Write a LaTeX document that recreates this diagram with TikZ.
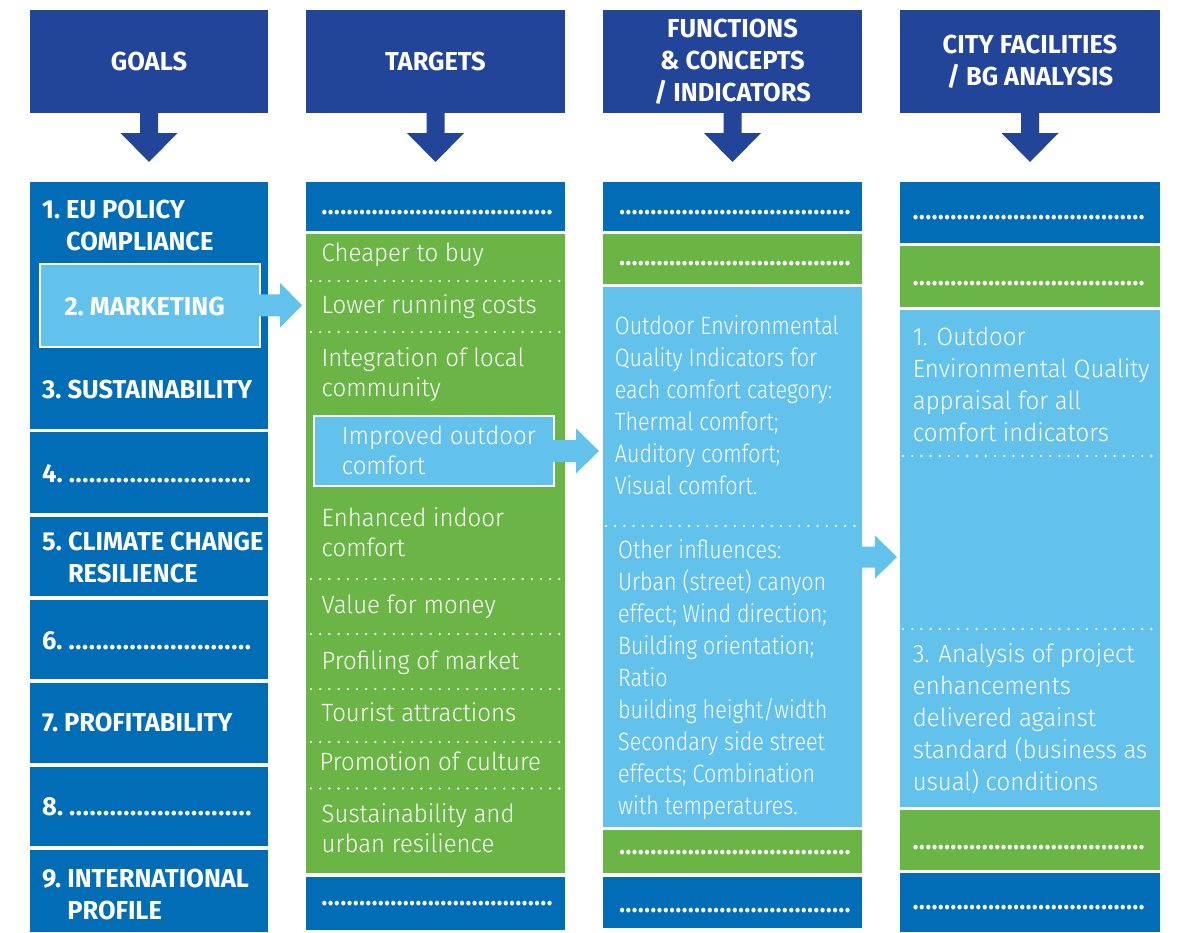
\documentclass[tikz,border=0pt]{standalone}
\usepackage{fontspec}
\setmainfont{Fira Sans}[FakeStretch=0.9]
\newfontfamily\fnwide{Fira Sans Light}[FakeStretch=0.96]
\newfontfamily\fnnarrow{Fira Sans Light}[FakeStretch=0.86]
\newfontfamily\fnbold{Fira Sans}[FakeStretch=0.98]
\usetikzlibrary{calc}
\definecolor{hdrblue}{RGB}{34,69,154}
\definecolor{colblue}{RGB}{0,109,182}
\definecolor{colgreen}{RGB}{106,181,69}
\definecolor{lightblue}{RGB}{99,194,236}
\newcommand{\dotrow}[1]{\hbox to #1{\xleaders\hbox{.\kern0.6pt}\hfill}}
\newcommand{\bstrut}{\rule{0pt}{20pt}}
\newcommand{\gstrut}{\rule{0pt}{21pt}}
\tikzset{
  blk/.style={anchor=north west, inner sep=0pt, outer sep=0pt, draw=none},
  hdrtxt/.style={text=white, font=\fnbold\fontsize{26}{32}\selectfont\bfseries, align=center},
  goaltxt/.style={text=white, font=\fnbold\fontsize{26}{32}\selectfont\bfseries, anchor=base west, inner sep=0pt, align=left},
  goalmulti/.style={goaltxt, anchor=north west},
  bodytxt/.style={text=white, font=\fnwide\fontsize{25}{32}\selectfont, anchor=north west, inner sep=0pt, align=left},
  functxt/.style={bodytxt, font=\fnnarrow\fontsize{25}{32}\selectfont},
  tgttxt/.style={text=white, font=\fnwide\fontsize{25}{29.5}\selectfont, anchor=north west, inner sep=0pt, align=left},
  tgtline/.style={tgttxt, anchor=base west},
  dottxt/.style={text=white, font=\fontsize{26}{32}\selectfont\bfseries, anchor=base west, inner sep=0pt},
  sepline/.style={white, line width=2.4pt, line cap=round, dash pattern=on 0pt off 9.2pt},
  hilite/.style={blk, fill=lightblue, draw=white, line width=2pt},
}
\newcommand{\mkbox}[6]{\node[blk, fill=#2, minimum width={(#5)-(#3)}, minimum height={(#6)-(#4)}] (#1) at (#3,#4) {};}
\begin{document}
\begin{tikzpicture}[x=1pt,y=-1pt]
\useasboundingbox (0,0) rectangle (1177,932);
% headers
\node[blk, fill=hdrblue, hdrtxt, minimum width=238, minimum height=103] (hg) at (30,10) {GOALS};
\node[blk, fill=hdrblue, hdrtxt, minimum width=259, minimum height=103] (ht) at (306,10) {TARGETS};
\node[blk, fill=hdrblue, hdrtxt, minimum width=259, minimum height=103] (hf) at (603,10) {FUNCTIONS\\\& CONCEPTS\\/ INDICATORS};
\node[blk, fill=hdrblue, hdrtxt, minimum width=260, minimum height=103] (hc) at (900,10) {CITY FACILITIES\\/ BG ANALYSIS};
\foreach \h in {hg,ht,hf,hc}{
  \fill[hdrblue] ($(\h.south)+(-9,-1)$) -- ($(\h.south)+(-9,20)$) -- ($(\h.south)+(-28.5,20)$) -- ($(\h.south)+(0,49)$) -- ($(\h.south)+(28.5,20)$) -- ($(\h.south)+(9,20)$) -- ($(\h.south)+(9,-1)$) -- cycle;
}
% goals column
\mkbox{g1}{colblue}{30}{182}{268}{428.5}
\mkbox{g4}{colblue}{30}{432}{268}{512.5}
\mkbox{g5}{colblue}{30}{516.5}{268}{596}
\mkbox{g6}{colblue}{30}{599.5}{268}{679}
\mkbox{g7}{colblue}{30}{682.5}{268}{763}
\mkbox{g8}{colblue}{30}{766.5}{268}{846}
\mkbox{g9}{colblue}{30}{849.5}{268}{932}
% targets column
\mkbox{t0}{colblue}{306}{182}{565}{231}
\mkbox{tg}{colgreen}{306}{234}{565}{873}
\mkbox{tb}{colblue}{306}{877}{565}{930}
% functions column
\mkbox{f0}{colblue}{603}{182}{862}{231}
\mkbox{f1}{colgreen}{603}{234}{862}{284}
\mkbox{fl}{lightblue}{603}{287}{862}{827}
\mkbox{f2}{colgreen}{603}{830}{862}{873}
\mkbox{f3}{colblue}{603}{877}{862}{928}
% city column
\mkbox{c0}{colblue}{900}{182}{1160}{243}
\mkbox{c1}{colgreen}{900}{246}{1160}{307}
\mkbox{cl}{lightblue}{900}{310}{1160}{807}
\mkbox{c2}{colgreen}{900}{809.5}{1160}{870}
\mkbox{c3}{colblue}{900}{873}{1160}{932}
% dotted separators
\foreach \yy in {281,332,579,634,689,742,788.5}{\draw[sepline] (311,\yy) -- (561,\yy);}
\draw[sepline] (606,526) -- (860,526);
\foreach \yy in {456,629}{\draw[sepline] (903,\yy) -- (1158,\yy);}
% highlighted boxes
\node[hilite, minimum width=220.5, minimum height=83.5] (gm) at (39.5,263.5) {};
\node[hilite, minimum width=240, minimum height=70] (ti) at (314,416) {};
% block arrows
\fill[lightblue] ($(gm.east)+(-2,-11)$) -- ($(gm.east)+(20,-11)$) -- ($(gm.east)+(20,-22.5)$) -- ($(gm.east)+(42,0)$) -- ($(gm.east)+(20,22.5)$) -- ($(gm.east)+(20,11)$) -- ($(gm.east)+(-2,11)$) -- cycle;
\fill[lightblue] ($(ti.east)+(-2,-11)$) -- ($(ti.east)+(22,-11)$) -- ($(ti.east)+(22,-22.5)$) -- ($(ti.east)+(45,0)$) -- ($(ti.east)+(22,22.5)$) -- ($(ti.east)+(22,11)$) -- ($(ti.east)+(-2,11)$) -- cycle;
\fill[lightblue] ($(fl.east)+(-1,-10.5)$) -- ($(fl.east)+(13,-10.5)$) -- ($(fl.east)+(13,-21.5)$) -- ($(fl.east)+(35,0)$) -- ($(fl.east)+(13,21.5)$) -- ($(fl.east)+(13,10.5)$) -- ($(fl.east)+(-1,10.5)$) -- cycle;
% goals texts
\node[goalmulti] (gt1) at (42,197.3) {\gstrut 1.~EU POLICY\\\phantom{1.~}COMPLIANCE};
\node[goaltxt] (gt2) at (64.3,315) {2.~MARKETING};
\node[goaltxt] (gt3) at (42,398) {3.~SUSTAINABILITY};
\node[goaltxt] (gt4) at (42,482) {4.~\dotrow{183pt}};
\node[goalmulti] (gt5) at (42,529) {\gstrut 5.~CLIMATE CHANGE\\\phantom{5.~}RESILIENCE};
\node[goaltxt] (gt6) at (42,649) {6.~\dotrow{183pt}};
\node[goaltxt] (gt7) at (42,731.7) {7.~PROFITABILITY};
\node[goaltxt] (gt8) at (42,815.7) {8.~\dotrow{183pt}};
\node[goalmulti] (gt9) at (42,866.3) {\gstrut 9.~INTERNATIONAL\\\phantom{9.~}PROFILE};
% targets texts
\node[dottxt] (td0) at (321.5,214) {\dotrow{231.5pt}};
\node[tgtline] (tt1) at (321.5,261.5) {Cheaper to buy};
\node[tgtline] (tt2) at (321.5,313.5) {Lower running costs};
\node[tgttxt] (tt3) at (321.5,346.5) {\bstrut Integration of local\\community};
\node[tgttxt] (tt4) at (341.7,424.5) {\bstrut Improved outdoor\\comfort};
\node[tgttxt] (tt5) at (321.5,506.5) {\bstrut Enhanced indoor\\comfort};
\node[tgtline] (tt6) at (321.5,613.5) {Value for money};
\node[tgtline] (tt7) at (321.5,669) {Profiling of market};
\node[tgtline] (tt8) at (321.5,721.5) {Tourist attractions};
\node[tgtline] (tt9) at (319.5,770) {Promotion of culture};
\node[tgttxt] (tt10) at (321.5,802.5) {\bstrut Sustainability and\\urban resilience};
\node[dottxt] (td1) at (321.5,905) {\dotrow{231.5pt}};
% functions texts
\node[dottxt] (fd0) at (619,214.5) {\dotrow{232pt}};
\node[dottxt] (fd1) at (619,265) {\dotrow{232pt}};
\node[functxt] (ft1) at (614.7,314) {\bstrut Outdoor Environmental\\Quality Indicators for\\each comfort category:\\Thermal comfort;\\Auditory comfort;\\Visual comfort.};
\node[functxt] (ft2) at (618,538.5) {\bstrut Other influences:\\Urban (street) canyon\\effect; Wind direction;\\Building orientation;\\Ratio\\building height/width\\Secondary side street\\effects; Combination\\with temperatures.};
\node[dottxt] (fd2) at (619,854) {\dotrow{232pt}};
\node[dottxt] (fd3) at (619,912) {\dotrow{232pt}};
% city texts
\node[dottxt] (cd0) at (912.7,219.5) {\dotrow{232.3pt}};
\node[dottxt] (cd1) at (912.7,285) {\dotrow{232.3pt}};
\node[bodytxt] (ct1) at (912.7,325) {\bstrut 1. Outdoor\\Environmental Quality\\appraisal for all\\comfort indicators};
\node[bodytxt] (ct2) at (912.7,642.5) {\bstrut 3. Analysis of project\\enhancements\\delivered against\\standard (business as\\usual) conditions};
\node[dottxt] (cd2) at (912.7,849) {\dotrow{232.3pt}};
\node[dottxt] (cd3) at (912.7,909.5) {\dotrow{232.3pt}};
\end{tikzpicture}
\end{document}
